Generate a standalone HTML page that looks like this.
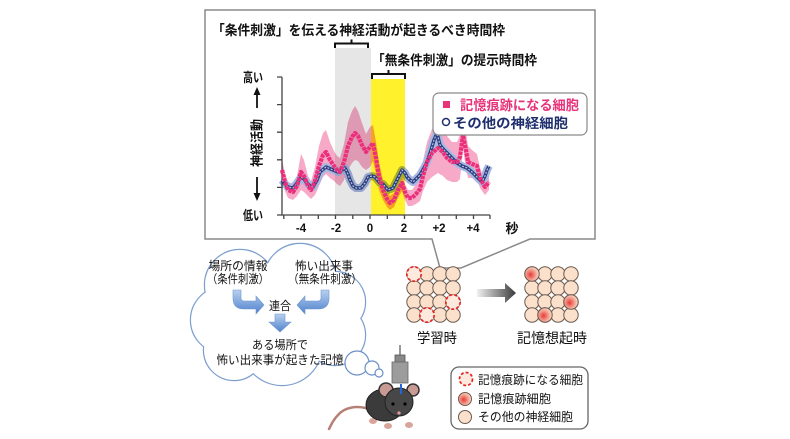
<!DOCTYPE html>
<html><head><meta charset="utf-8">
<style>
html,body{margin:0;padding:0;background:#fff;}
svg{display:block;}
text{font-family:"Liberation Sans","Noto Sans CJK JP",sans-serif;}
</style></head>
<body>
<svg width="790" height="439" viewBox="0 0 790 439" xmlns="http://www.w3.org/2000/svg">
<defs>
<linearGradient id="garr" x1="0" y1="0" x2="1" y2="0">
<stop offset="0" stop-color="#f0f0f0"/><stop offset="1" stop-color="#3a3a3a"/>
</linearGradient>
<linearGradient id="barr" x1="0" y1="0" x2="0" y2="1">
<stop offset="0" stop-color="#b8d0f0"/><stop offset="1" stop-color="#4f82cc"/>
</linearGradient>
<radialGradient id="rcell" cx="0.4" cy="0.55" r="0.6">
<stop offset="0" stop-color="#e53a3a"/><stop offset="0.55" stop-color="#f39a8a"/><stop offset="1" stop-color="#fbe0cc"/>
</radialGradient>
</defs>

<!-- chart callout box -->
<path d="M205,10 H595 V239 H530 L461,268 L440,268 L432,239 H205 Z" fill="#fff" stroke="#8a8a8a" stroke-width="1.5"/>

<text x="212" y="35" font-size="13.5" font-weight="bold" textLength="293" lengthAdjust="spacingAndGlyphs" fill="#111">「条件刺激」を伝える神経活動が起きるべき時間枠</text>
<text x="372" y="65" font-size="13.5" font-weight="bold" textLength="165" lengthAdjust="spacingAndGlyphs" fill="#111">「無条件刺激」の提示時間枠</text>

<!-- braces -->
<path d="M335,48 V43.5 H368 V48 M351.5,43.5 V39.5" fill="none" stroke="#111" stroke-width="2"/>
<path d="M372,79 V74 H405 V79 M388.5,74 V70" fill="none" stroke="#111" stroke-width="2"/>

<!-- regions -->
<rect x="335" y="48" width="36" height="167" fill="#e6e6e6"/>
<rect x="371" y="79" width="34" height="136" fill="#fff22d"/>

<!-- axes -->
<g stroke="#444" stroke-width="1.3" fill="none">
<path d="M282,77 V215 H490"/>
<path d="M277,77H282 M277,104.6H282 M277,132.2H282 M277,159.8H282 M277,187.4H282 M277,215H282"/>
<path d="M283.8,215v4 M301,215v4 M318.3,215v4 M335.5,215v4 M352.8,215v4 M370,215v4 M387.3,215v4 M404.5,215v4 M421.8,215v4 M439,215v4 M456.3,215v4 M473.5,215v4 M490,215v4"/>
</g>

<!-- series -->
<g style="mix-blend-mode:multiply">
<polygon fill="#f49bbd" opacity="0.85" points="282,160 285,173 288,182 293,184 297,176 301,154 304,160 308,176 311,181 315,167 319,146 323,133 326,130 330,142 334,151 337,156 340,158 344,144 348,122 352,111 355,106 358,111 362,123 366,134 370,127 373,125 376,142 379,162 383,180 387,191 390,196 394,193 398,182 402,175 405,184 408,190 412,190 416,184 420,177 423,161 427,142 432,129 438,123 443,128 447,136 452,142 457,142 460,135 463,121 466,132 468,146 472,150 477,154 480,168 485,179 489,174 489,190 485,195 480,188 477,178 472,178 468,178 466,168 463,149 460,179 457,182 452,182 447,180 443,176 438,173 432,177 427,182 423,191 420,201 416,204 412,206 408,206 405,200 402,191 398,198 394,207 390,210 387,207 383,200 379,190 376,174 373,161 370,167 366,170 362,167 358,161 355,160 352,163 348,170 344,180 340,186 337,184 334,181 330,178 326,174 323,177 319,186 315,195 311,199 308,196 304,192 301,190 297,196 293,200 288,198 285,191 282,180"/>
<polyline fill="none" stroke="#a9b8e2" stroke-width="8" stroke-linejoin="round" points="282,180 285,184 288,187 293,188 297,183 301,177 304,179 306,182 310,186 313,187 317,180 320,172 326,167 333,170 338,172 342,170 345,168 348,174 350,180 353,186 356,188 361,188 365,183 368,177 372,176 375,177 380,183 383,184 388,190 393,188 397,180 402,170 405,173 407,177 410,180 413,182 417,178 420,175 424,168 427,162 431,150 434,140 437,133 440,145 444,150 447,153 452,158 457,163 462,166 467,168 472,172 477,177 480,180 482,182 485,176 487,170 489,166"/>
</g>
<polyline fill="none" stroke="#2b3d7c" stroke-width="3.4" stroke-linejoin="round" points="282,180 285,184 288,187 293,188 297,183 301,177 304,179 306,182 310,186 313,187 317,180 320,172 326,167 333,170 338,172 342,170 345,168 348,174 350,180 353,186 356,188 361,188 365,183 368,177 372,176 375,177 380,183 383,184 388,190 393,188 397,180 402,170 405,173 407,177 410,180 413,182 417,178 420,175 424,168 427,162 431,150 434,140 437,133 440,145 444,150 447,153 452,158 457,163 462,166 467,168 472,172 477,177 480,180 482,182 485,176 487,170 489,166"/>
<polyline fill="none" stroke="#b7c4e6" stroke-width="1.2" stroke-dasharray="2 1.5" points="282,180 285,184 288,187 293,188 297,183 301,177 304,179 306,182 310,186 313,187 317,180 320,172 326,167 333,170 338,172 342,170 345,168 348,174 350,180 353,186 356,188 361,188 365,183 368,177 372,176 375,177 380,183 383,184 388,190 393,188 397,180 402,170 405,173 407,177 410,180 413,182 417,178 420,175 424,168 427,162 431,150 434,140 437,133 440,145 444,150 447,153 452,158 457,163 462,166 467,168 472,172 477,177 480,180 482,182 485,176 487,170 489,166"/>
<polyline fill="none" stroke="#ec2f7b" stroke-width="4.2" stroke-linejoin="round" stroke-dasharray="3.5 0.8" points="282,170 285,182 288,190 293,192 297,186 301,172 304,176 308,186 311,190 315,181 319,166 323,155 326,152 330,160 334,166 337,170 340,172 344,162 348,146 352,137 355,133 358,136 362,145 366,152 370,147 373,143 376,158 379,176 383,190 387,199 390,203 394,200 398,190 402,183 405,192 408,198 412,198 416,194 420,189 423,176 427,162 432,153 438,148 443,152 447,158 452,162 457,162 460,157 463,135 466,150 468,162 472,164 477,166 480,178 485,187 489,182"/>

<!-- y labels -->
<text x="243" y="82" font-size="13" font-weight="bold" textLength="20" lengthAdjust="spacingAndGlyphs" fill="#111">高い</text>
<text x="243" y="220" font-size="13" font-weight="bold" textLength="20" lengthAdjust="spacingAndGlyphs" fill="#111">低い</text>
<g stroke="#111" stroke-width="1.8"><line x1="257" y1="108" x2="257" y2="93"/><line x1="257" y1="177" x2="257" y2="195"/></g>
<polygon points="253.5,95 260.5,95 257,87" fill="#111"/>
<polygon points="253.5,193 260.5,193 257,201" fill="#111"/>
<text transform="translate(261.5,143) rotate(-90)" text-anchor="middle" font-size="13" font-weight="bold" textLength="48" lengthAdjust="spacingAndGlyphs" fill="#111">神経活動</text>

<!-- x labels -->
<g font-size="11.5" font-weight="bold" fill="#111" text-anchor="middle">
<text x="301" y="232">-4</text><text x="336" y="232">-2</text><text x="370" y="232">0</text><text x="404" y="232">2</text><text x="439" y="232">+2</text><text x="473" y="232">+4</text>
</g>
<text x="512" y="233" font-size="13" font-weight="bold" text-anchor="middle" fill="#111">秒</text>

<!-- chart legend -->
<rect x="433" y="93" width="154" height="42" rx="6" fill="#fff" stroke="#8a8a8a" stroke-width="1.2"/>
<rect x="443" y="101" width="7" height="7" fill="#e8337a"/>
<text x="460" y="110" font-size="13.5" font-weight="bold" fill="#e8337a" textLength="119" lengthAdjust="spacingAndGlyphs">記憶痕跡になる細胞</text>
<circle cx="446" cy="122" r="3.5" fill="#fff" stroke="#1f3070" stroke-width="1.5"/>
<text x="453" y="128" font-size="13.5" font-weight="bold" fill="#1f2f6e" textLength="115" lengthAdjust="spacingAndGlyphs">その他の神経細胞</text>

<!-- cloud -->
<g fill="none" stroke="#7d9fd0" stroke-width="2.4">
<circle cx="240" cy="285" r="35"/><circle cx="300" cy="280" r="36"/><circle cx="335" cy="302" r="30"/>
<circle cx="224" cy="320" r="33"/><circle cx="335" cy="335" r="30"/><circle cx="282" cy="345" r="40"/>
<circle cx="234" cy="350" r="30"/><circle cx="280" cy="312" r="40"/>
</g>
<g fill="#fff">
<circle cx="240" cy="285" r="35"/><circle cx="300" cy="280" r="36"/><circle cx="335" cy="302" r="30"/>
<circle cx="224" cy="320" r="33"/><circle cx="335" cy="335" r="30"/><circle cx="282" cy="345" r="40"/>
<circle cx="234" cy="350" r="30"/><circle cx="280" cy="312" r="40"/>
</g>
<g fill="#fff" stroke="#6a90c8" stroke-width="1.2">
<circle cx="357" cy="363" r="12"/><circle cx="372" cy="368" r="7"/><circle cx="379" cy="373" r="4"/>
</g>

<g font-size="12" fill="#111">
<text x="238" y="270" text-anchor="middle" textLength="59" lengthAdjust="spacingAndGlyphs">場所の情報</text>
<text x="238" y="283" text-anchor="middle" textLength="62" lengthAdjust="spacingAndGlyphs">（条件刺激）</text>
<text x="324" y="270" text-anchor="middle" textLength="58" lengthAdjust="spacingAndGlyphs">怖い出来事</text>
<text x="325" y="283" text-anchor="middle" textLength="74" lengthAdjust="spacingAndGlyphs">（無条件刺激）</text>
<text x="280" y="310" text-anchor="middle" textLength="22" lengthAdjust="spacingAndGlyphs">連合</text>
<text x="280" y="349" text-anchor="middle" textLength="56" lengthAdjust="spacingAndGlyphs">ある場所で</text>
<text x="280" y="364" text-anchor="middle" textLength="127" lengthAdjust="spacingAndGlyphs">怖い出来事が起きた記憶</text>
</g>
<!-- blue arrows -->
<path d="M233,290 H241 V298 Q241,301 244,301 H256 V296 L264,305 L256,314 V309 H244 Q233,309 233,298 Z" fill="url(#barr)" stroke="#6f95cf" stroke-width="0.6"/>
<path d="M329,290 H321 V298 Q321,301 318,301 H305 V296 L297,305 L305,314 V309 H318 Q329,309 329,298 Z" fill="url(#barr)" stroke="#6f95cf" stroke-width="0.6"/>
<path d="M275,314 H285 V322 H291 L280,332 L269,322 H275 Z" fill="url(#barr)" stroke="#6f95cf" stroke-width="0.6"/>

<!-- cell grids -->
<g stroke="#6b5b50" stroke-width="1" fill="#fbe0cc">
<circle cx="414" cy="274" r="7.2"/><circle cx="427" cy="274" r="7.2"/><circle cx="440" cy="274" r="7.2"/><circle cx="453" cy="274" r="7.2"/>
<circle cx="414" cy="288" r="7.2"/><circle cx="427" cy="288" r="7.2"/><circle cx="440" cy="288" r="7.2"/><circle cx="453" cy="288" r="7.2"/>
<circle cx="414" cy="302" r="7.2"/><circle cx="427" cy="302" r="7.2"/><circle cx="440" cy="302" r="7.2"/><circle cx="453" cy="302" r="7.2"/>
<circle cx="414" cy="315" r="7.2"/><circle cx="427" cy="315" r="7.2"/><circle cx="440" cy="315" r="7.2"/><circle cx="453" cy="315" r="7.2"/>
<circle cx="532" cy="274" r="7.2"/><circle cx="545" cy="274" r="7.2"/><circle cx="558" cy="274" r="7.2"/><circle cx="571" cy="274" r="7.2"/>
<circle cx="532" cy="288" r="7.2"/><circle cx="545" cy="288" r="7.2"/><circle cx="558" cy="288" r="7.2"/><circle cx="571" cy="288" r="7.2"/>
<circle cx="532" cy="302" r="7.2"/><circle cx="545" cy="302" r="7.2"/><circle cx="558" cy="302" r="7.2"/><circle cx="571" cy="302" r="7.2"/>
<circle cx="532" cy="315" r="7.2"/><circle cx="545" cy="315" r="7.2"/><circle cx="558" cy="315" r="7.2"/><circle cx="571" cy="315" r="7.2"/>
</g>
<g fill="#fde9de" stroke="#e8221e" stroke-width="1.7" stroke-dasharray="3 2">
<circle cx="414" cy="274" r="7.2"/><circle cx="453" cy="302" r="7.2"/><circle cx="427" cy="315" r="7.2"/>
</g>
<g fill="url(#rcell)" stroke="#6b5b50" stroke-width="1">
<circle cx="532" cy="274" r="7.2"/><circle cx="571" cy="302" r="7.2"/><circle cx="545" cy="315" r="7.2"/>
</g>
<!-- gray arrow -->
<path d="M477,289 H505 V283 L516,293 L505,303 V297 H477 Z" fill="url(#garr)"/>
<text x="437" y="343" font-size="14" text-anchor="middle" fill="#111" textLength="40" lengthAdjust="spacingAndGlyphs">学習時</text>
<text x="552" y="343" font-size="14" text-anchor="middle" fill="#111" textLength="70" lengthAdjust="spacingAndGlyphs">記憶想起時</text>

<!-- mouse -->
<path d="M372,410 C356,404 344,408 338,415 C333,420 331,425 329,429" fill="none" stroke="#b58075" stroke-width="2.5" stroke-linecap="round"/>
<ellipse cx="373" cy="421" rx="4" ry="3" fill="#d9a49a"/>
<ellipse cx="388" cy="426" rx="4" ry="3" fill="#d9a49a"/>
<ellipse cx="409" cy="425" rx="4" ry="3" fill="#d9a49a"/>
<ellipse cx="385" cy="405" rx="19" ry="16" fill="#3b3b3b" stroke="#222" stroke-width="1"/>
<circle cx="386" cy="390" r="7" fill="#c99a94" stroke="#333" stroke-width="1.5"/>
<circle cx="413" cy="390" r="6" fill="#c99a94" stroke="#333" stroke-width="1.5"/>
<circle cx="399" cy="402" r="14" fill="#474747" stroke="#222" stroke-width="1"/>
<circle cx="393" cy="404" r="1.6" fill="#000"/><circle cx="405" cy="404" r="1.6" fill="#000"/>
<circle cx="399" cy="413" r="1.6" fill="#e39aa0"/>
<line x1="400" y1="345" x2="400" y2="358" stroke="#555" stroke-width="1.2"/>
<rect x="395" y="355" width="10" height="8" fill="#888" stroke="#555" stroke-width="0.8"/>
<rect x="392" y="362" width="16" height="21" fill="#9c9c9c" stroke="#666" stroke-width="0.8"/>
<line x1="401" y1="384" x2="401" y2="394" stroke="#2266dd" stroke-width="2"/>

<!-- bottom legend -->
<rect x="451" y="367" width="137" height="62" rx="8" fill="#fff" stroke="#666" stroke-width="1.3"/>
<circle cx="466" cy="379" r="6.5" fill="#fde9de" stroke="#e8221e" stroke-width="1.7" stroke-dasharray="3 2"/>
<circle cx="465" cy="399" r="6.5" fill="url(#rcell)" stroke="#6b5b50" stroke-width="1"/>
<circle cx="465" cy="417" r="6.5" fill="#fbe0cc" stroke="#6b5b50" stroke-width="1"/>
<g font-size="12" fill="#111">
<text x="478" y="384" textLength="105" lengthAdjust="spacingAndGlyphs">記憶痕跡になる細胞</text>
<text x="478" y="403" textLength="73" lengthAdjust="spacingAndGlyphs">記憶痕跡細胞</text>
<text x="478" y="421" textLength="95" lengthAdjust="spacingAndGlyphs">その他の神経細胞</text>
</g>
</svg>
</body></html>
